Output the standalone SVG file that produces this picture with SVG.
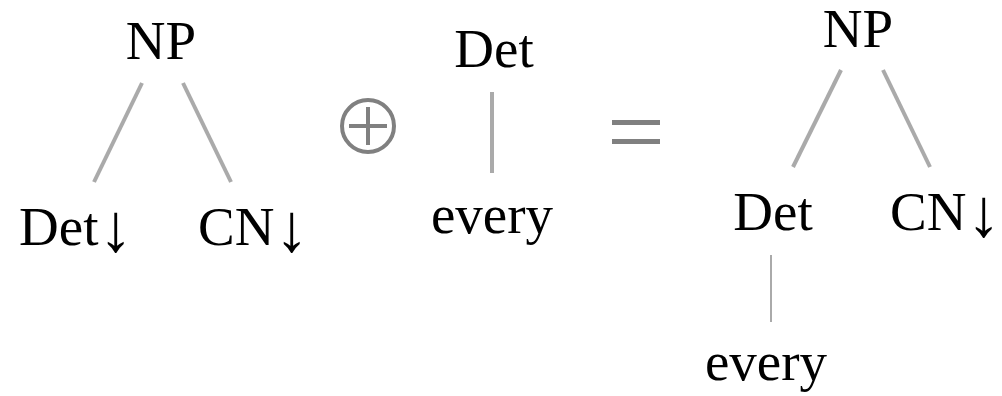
<svg xmlns="http://www.w3.org/2000/svg" width="1002" height="396" viewBox="0 0 1002 396">
<style>
text{font-family:"Liberation Serif","Times New Roman",serif;font-size:55px;fill:#000}
.m{text-anchor:middle}
.ar{font-size:68px}
.e{stroke:#aaaaaa;stroke-width:4;fill:none}
.t{stroke:#aaaaaa;stroke-width:2;fill:none}
.op{stroke:#808080;stroke-width:4;fill:none}
</style>
<rect width="1002" height="396" fill="#fff"/>
<g id="connectors">
<line class="e" x1="142" y1="83" x2="94" y2="182"/>
<line class="e" x1="183" y1="83" x2="231" y2="182"/>
<line class="e" x1="492" y1="92" x2="492" y2="173"/>
<line class="e" x1="841" y1="70" x2="793" y2="167"/>
<line class="e" x1="883" y1="70" x2="930" y2="167"/>
<line class="t" x1="771" y1="255" x2="771" y2="322"/>
</g>
<g id="np1"><text class="m" x="161" y="59">NP</text></g>
<g id="det1"><text x="19" y="245">Det<tspan class="ar" dy="6">↓</tspan></text></g>
<g id="cn1"><text x="198" y="245">CN<tspan class="ar" dy="6">↓</tspan></text></g>
<g id="oplus"><circle class="op" cx="368" cy="126" r="26"/><line class="op" x1="349" y1="126" x2="387" y2="126"/><line class="op" x1="368" y1="107" x2="368" y2="145"/></g>
<g id="det2"><text class="m" x="494" y="67">Det</text></g>
<g id="every2"><text class="m" x="492" y="233">every</text></g>
<g id="eq"><rect x="612" y="120" width="48" height="5" fill="#808080"/><rect x="612" y="139" width="48" height="5" fill="#808080"/></g>
<g id="np3"><text class="m" x="858" y="47">NP</text></g>
<g id="det3"><text class="m" x="773" y="230">Det</text></g>
<g id="cn3"><text x="890" y="230">CN<tspan class="ar" dy="6">↓</tspan></text></g>
<g id="every3"><text class="m" x="766" y="380">every</text></g>
</svg>
